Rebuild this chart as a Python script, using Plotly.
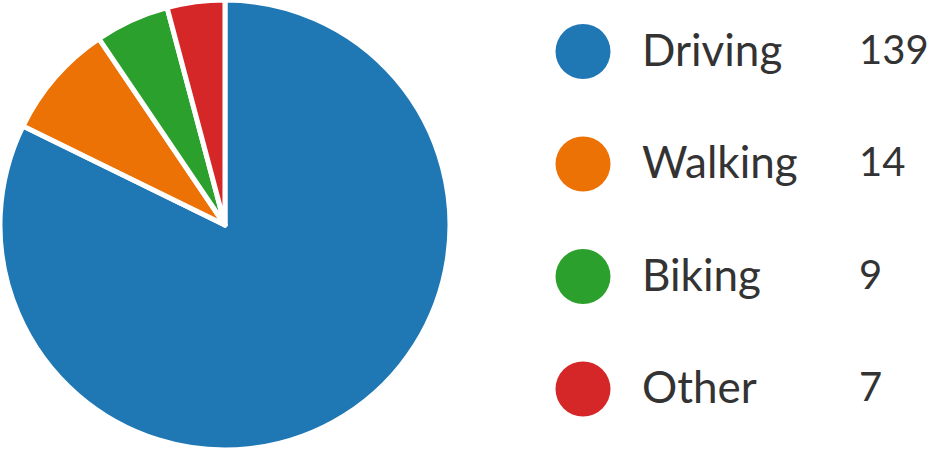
import plotly.graph_objects as go

categories = ["Driving", "Walking", "Biking", "Other"]
values = [139, 14, 9, 7]
colors = ["#1f77b4", "#ec7206", "#2ca02c", "#d62728"]

FONT = "Lato"
TEXT_COLOR = "#333333"

fig = go.Figure()

fig.add_trace(go.Pie(
    labels=categories,
    values=values,
    sort=False,
    direction="clockwise",
    rotation=0,
    marker=dict(colors=colors, line=dict(color="white", width=5)),
    textinfo="none",
    hoverinfo="label+value",
    showlegend=False,
    domain=dict(x=[0.0, 0.4828], y=[0.0, 1.0]),
))

idx = list(range(len(categories)))

fig.add_trace(go.Scatter(
    x=[0] * len(categories),
    y=idx,
    mode="markers",
    marker=dict(size=55, color=colors, line=dict(width=0)),
    hoverinfo="skip",
    showlegend=False,
    xaxis="x",
    yaxis="y",
))

annotations = []
for i, (c, v) in enumerate(zip(categories, values)):
    annotations.append(dict(
        x=57, y=i, xref="x", yref="y", text=c, showarrow=False,
        xanchor="left", yanchor="middle", yshift=3,
        font=dict(family=FONT, size=44, color=TEXT_COLOR),
    ))
    annotations.append(dict(
        x=274, y=i, xref="x", yref="y", text=str(v), showarrow=False,
        xanchor="left", yanchor="middle", yshift=3,
        font=dict(family=FONT, size=40, color=TEXT_COLOR),
    ))

fig.update_layout(
    width=932, height=450,
    margin=dict(l=0, r=0, t=0, b=0),
    paper_bgcolor="white",
    plot_bgcolor="rgba(0,0,0,0)",
    xaxis=dict(domain=[0, 1], range=[-583, 349], visible=False, fixedrange=True),
    yaxis=dict(domain=[0, 1], range=[3.542, -0.458], visible=False, fixedrange=True),
    annotations=annotations,
)

fig.write_html(
    "out.html",
    config={"displayModeBar": False},
    post_script="document.body.style.margin='0';document.body.style.overflow='hidden';",
)
